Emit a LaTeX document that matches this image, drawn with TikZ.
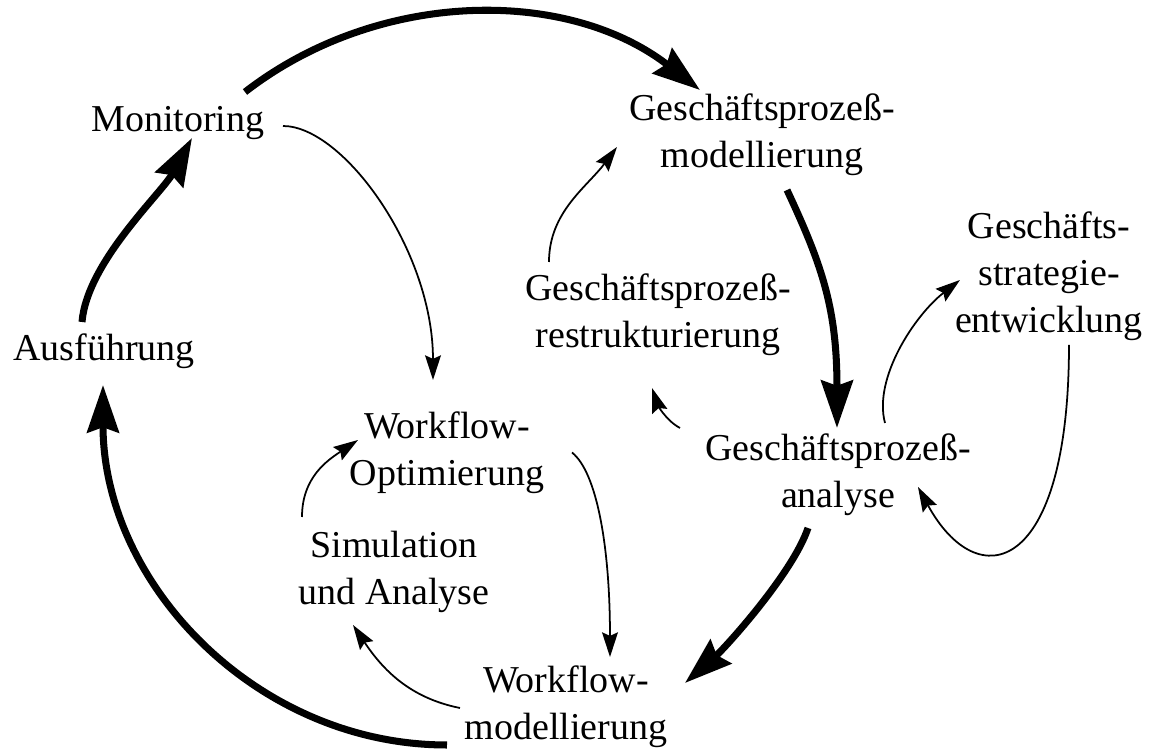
\documentclass[tikz,border=0pt]{standalone}
\usepackage{fontspec}
\setmainfont{Liberation Serif}
\usetikzlibrary{arrows.meta}

\begin{document}
\begin{tikzpicture}[x=0.01cm,y=-0.01cm,
	every node/.style={inner sep=0pt,align=center,font=\fontsize{10.8}{13.4}\selectfont},
	mainflow/.style={line width=2pt,-{Stealth[length=13.5pt,width=9pt,inset=1.5pt]}},
	subflow/.style={line width=0.5pt,-{Stealth[length=7pt,width=4.5pt,inset=1pt]}}]
	\useasboundingbox (0,0) rectangle (1153,749);
	\node (mon) at (178,123) {Monitoring};
	\node (gpm) at (762,134.5) {Geschäftsprozeß-\\modellierung};
	\node (gse) at (1049,276) {Geschäfts-\\strategie-\\entwicklung};
	\node (gpr) at (658,315) {Geschäftsprozeß-\\restrukturierung};
	\node (aus) at (104,351) {Ausführung};
	\node (wfo) at (447,452.5) {Workflow-\\Optimierung};
	\node (gpa) at (838,474.5) {Geschäftsprozeß-\\analyse};
	\node (sim) at (394,571.5) {Simulation\\und Analyse};
	\node (wfm) at (566,706.5) {Workflow-\\modellierung};
	\draw[mainflow] ([shift={(67,-31)}]mon.center) .. controls +(133,-103) and +(-133,-103) .. ([shift={(-62,-44.5)}]gpm.center);
	\draw[mainflow] ([shift={(25,55.5)}]gpm.center) .. controls +(35,75) and +(0,-120) .. ([shift={(-1,-46.5)}]gpa.center);
	\draw[mainflow] ([shift={(-30,53.5)}]gpa.center) .. controls +(-15,45) and +(40,-35) .. ([shift={(119,-23.5)}]wfm.center);
	\draw[mainflow] ([shift={(-119,38.5)}]wfm.center) .. controls +(-190,0) and +(0,199) .. ([shift={(-1,34)}]aus.center);
	\draw[mainflow] ([shift={(-22,-29)}]aus.center) .. controls +(5,-60) and +(-30,55) .. ([shift={(14,15)}]mon.center);
	\draw[subflow] ([shift={(105,3)}]mon.center) .. controls +(60,0) and +(0,-130) .. ([shift={(-14,-72.5)}]wfo.center);
	\draw[subflow] ([shift={(-109,-53)}]gpr.center) .. controls +(0,-50) and +(-30,40) .. ([shift={(-145,12.5)}]gpm.center);
	\draw[subflow] ([shift={(-158,-46.5)}]gpa.center) .. controls +(-15,-8) and +(5,15) .. ([shift={(-6,73)}]gpr.center);
	\draw[subflow] ([shift={(47,-51.5)}]gpa.center) .. controls +(-12,-45) and +(-45,35) .. ([shift={(-89,4)}]gse.center);
	\draw[subflow] ([shift={(20,69)}]gse.center) .. controls +(0,230) and +(60,110) .. ([shift={(80,12.5)}]gpa.center);
	\draw[subflow] ([shift={(125,0)}]wfo.center) .. controls +(25,20) and +(0,-110) .. ([shift={(44,-49.5)}]wfm.center);
	\draw[subflow] ([shift={(-92,-54.5)}]sim.center) .. controls +(0,-40) and +(-30,20) .. ([shift={(-89,-12.5)}]wfo.center);
	\draw[subflow] ([shift={(-106,1.5)}]wfm.center) .. controls +(-50,-10) and +(30,45) .. ([shift={(-41,53.5)}]sim.center);
\end{tikzpicture}
\end{document}
